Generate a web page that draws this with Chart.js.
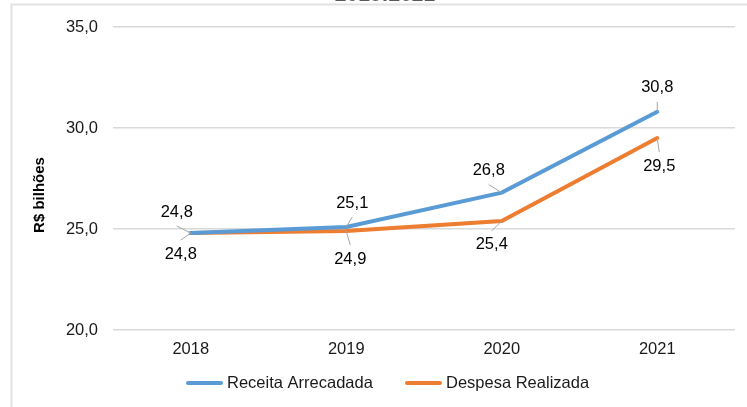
<!DOCTYPE html>
<html>
<head>
<meta charset="utf-8">
<script src="https://cdn.jsdelivr.net/npm/chart.js@4/dist/chart.umd.min.js"></script>
<style>
html,body{margin:0;padding:0;background:#fff;}
#wrap{position:relative;width:747px;height:407px;}
</style>
</head>
<body>
<div id="wrap"><canvas id="c" width="747" height="407"></canvas></div>
<script>
const years = ['2018', '2019', '2020', '2021'];
const receita = [24.8, 25.1, 26.8, 30.8];
const despesa = [24.8, 24.9, 25.4, 29.5];
const seriesNames = ['Receita Arrecadada', 'Despesa Realizada'];
const yTicks = [20, 25, 30, 35];
const yTitle = 'R$ bilhões';
const chartTitle = '2018:2021';

const fmt = v => v.toFixed(1).replace('.', ',');
const FONT = '"Liberation Sans", Arial, sans-serif';

// label placement offsets (pixels from the point), per dataset
const labelOffsets = [
  [[-14,-21],[6,-24],[-13,-22],[0,-24]],
  [[-10,21],[4,28],[-10,24],[2,28]]
];
// legend entries placement
const legendPos = [[186, 383], [405, 383]];

const decor = {
  id: 'decor',
  beforeDraw(chart) {
    const ctx = chart.ctx;
    ctx.save();
    ctx.strokeStyle = '#e2e2e2';
    ctx.lineWidth = 2;
    ctx.beginPath();
    ctx.moveTo(11.5, 407); ctx.lineTo(11.5, 4.5); ctx.lineTo(747, 4.5);
    ctx.stroke();
    // cut-off title
    ctx.fillStyle = '#595959';
    ctx.font = 'bold 21px ' + FONT;
    ctx.textAlign = 'center';
    ctx.textBaseline = 'alphabetic';
    ctx.fillText(chartTitle, 385, 1);
    // y title
    ctx.save();
    ctx.translate(40, 195);
    ctx.rotate(-Math.PI / 2);
    ctx.fillStyle = '#000';
    ctx.font = 'bold 15px ' + FONT;
    ctx.textBaseline = 'middle';
    ctx.fillText(yTitle, 0, 0);
    ctx.restore();
    // legend
    chart.data.datasets.forEach((ds, di) => {
      const [x, y] = legendPos[di];
      ctx.strokeStyle = ds.borderColor;
      ctx.lineWidth = 4;
      ctx.lineCap = 'round';
      ctx.beginPath();
      ctx.moveTo(x + 2, y); ctx.lineTo(x + 35, y);
      ctx.stroke();
      ctx.fillStyle = '#1a1a1a';
      ctx.font = '16.5px ' + FONT;
      ctx.textAlign = 'left';
      ctx.textBaseline = 'middle';
      ctx.fillText(ds.label, x + 41, y);
    });
    ctx.restore();
  },
  afterDatasetsDraw(chart) {
    const ctx = chart.ctx;
    ctx.save();
    ctx.font = '16.5px ' + FONT;
    ctx.textAlign = 'center';
    ctx.textBaseline = 'middle';
    chart.data.datasets.forEach((ds, di) => {
      const meta = chart.getDatasetMeta(di);
      meta.data.forEach((pt, i) => {
        const off = labelOffsets[di][i];
        const lx = pt.x + off[0], ly = pt.y + off[1];
        const ex = lx, ey = ly + (di === 0 ? 14 : -14);
        ctx.strokeStyle = '#a6a6a6';
        ctx.lineWidth = 1;
        ctx.beginPath();
        ctx.moveTo(ex, ey); ctx.lineTo(pt.x, pt.y);
        ctx.stroke();
        ctx.fillStyle = '#000';
        ctx.fillText(fmt(ds.data[i]), lx, ly);
      });
    });
    ctx.restore();
  }
};

new Chart(document.getElementById('c'), {
  type: 'line',
  data: {
    labels: years,
    datasets: [
      { label: seriesNames[0], data: receita, borderColor: '#5B9BD5', backgroundColor: '#5B9BD5', borderWidth: 4, pointRadius: 0, tension: 0, borderCapStyle: 'round' },
      { label: seriesNames[1], data: despesa, borderColor: '#ED7D31', backgroundColor: '#ED7D31', borderWidth: 4, pointRadius: 0, tension: 0, borderCapStyle: 'round' }
    ]
  },
  options: {
    responsive: false,
    animation: false,
    events: [],
    layout: { padding: { left: 43, right: 12, top: 27, bottom: 37 } },
    plugins: {
      legend: { display: false },
      tooltip: { enabled: false }
    },
    scales: {
      x: {
        offset: true,
        grid: { display: false, drawTicks: false },
        border: { display: false },
        ticks: { color: '#1a1a1a', padding: 10, font: { size: 16.5, family: FONT } },
        afterFit(s) { s.height = 40; }
      },
      y: {
        min: 20, max: 35,
        afterBuildTicks(s) { s.ticks = yTicks.map(v => ({ value: v })); },
        grid: { color: '#d9d9d9', lineWidth: 1.5, drawTicks: false },
        border: { display: false },
        ticks: { color: '#1a1a1a', padding: 15, callback: v => fmt(v), font: { size: 16.5, family: FONT } },
        afterFit(s) { s.width = 70; }
      }
    }
  },
  plugins: [decor]
});
</script>
</body>
</html>
